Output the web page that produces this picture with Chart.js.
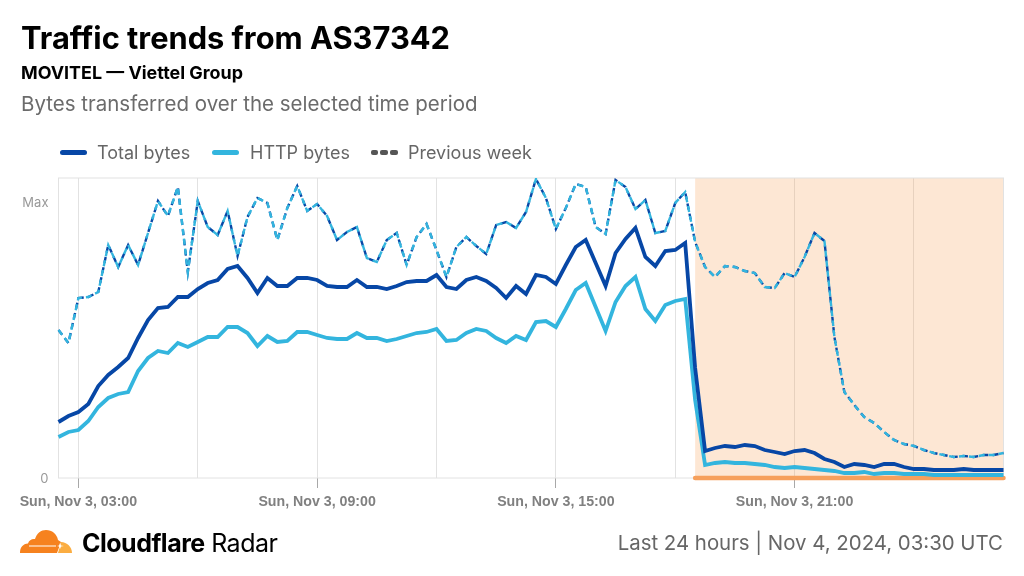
<!DOCTYPE html>
<html>
<head>
<meta charset="utf-8">
<script src="https://cdn.jsdelivr.net/npm/chart.js@4"></script>
<style>
  html, body { margin: 0; padding: 0; background: #fff; }
  body { width: 1024px; height: 576px; position: relative; overflow: hidden; font-family: Inter, sans-serif; }
  canvas { position: absolute; left: 0; top: 0; }
  .txt { position: absolute; white-space: nowrap; }
  #title { left: 21px; top: 19px; font-size: 30.8px; line-height: 38px; font-weight: 700; color: #000; }
  #sub { left: 21px; top: 62px; font-size: 17.9px; line-height: 22px; font-weight: 700; color: #000; }
  #desc { left: 21px; top: 91px; font-size: 20.5px; line-height: 26px; color: #6b6b6b; }
  .leg { top: 141px; font-size: 18px; line-height: 23px; color: #666; }
  .swatch { position: absolute; height: 5px; border-radius: 3px; top: 150px; }
  #brand { left: 82px; top: 526px; font-size: 25px; line-height: 34px; color: #000; letter-spacing: -0.5px; }
  #brand b { font-weight: 700; }
  #stamp { right: 21px; top: 529px; font-size: 20.4px; line-height: 28px; color: #666; }
  #logo { position: absolute; left: 20px; top: 530px; }
</style>
</head>
<body>
<canvas id="chart" width="1024" height="576"></canvas>

<div class="txt" id="title">Traffic trends from AS37342</div>
<div class="txt" id="sub">MOVITEL — Viettel Group</div>
<div class="txt" id="desc">Bytes transferred over the selected time period</div>

<div class="swatch" style="left:60px;width:27px;background:#0747a6"></div>
<div class="txt leg" style="left:97px">Total bytes</div>
<div class="swatch" style="left:212px;width:27px;background:#33b5de"></div>
<div class="txt leg" style="left:250px">HTTP bytes</div>
<div class="swatch" style="left:371px;width:7px;background:#555;border-radius:2px"></div>
<div class="swatch" style="left:380px;width:8px;background:#555;border-radius:2px"></div>
<div class="swatch" style="left:390px;width:8px;background:#555;border-radius:2px"></div>
<div class="txt leg" style="left:408px">Previous week</div>

<svg id="logo" width="52" height="23" viewBox="0 0 52 23">
  <path fill="#f6821f" d="M0 23C0 17 3 14 8 13.500 9 10 12 8.500 15 9 17 3 21 0 26 0 32 0 37 4 38 10L41 12 37 23z"/>
  <path fill="#fbad41" d="M38 23L41 12C47 12 52 17 52 23z"/>
  <path fill="#fff" d="M9 15.600H36V16.500H9zM40 13L41 15.500 44 16 41 16.500 40 19 39 16.500 37 16 39 15.500z"/>
</svg>
<div class="txt" id="brand"><b>Cloudflare</b> Radar</div>
<div class="txt" id="stamp">Last 24 hours | Nov 4, 2024, 03:30 UTC</div>

<script>
// valores, altura relativa (0 = base, 276 = "Max")
const totalBytes = [56,62,66,74,92,103,111,120,140,158,170,171,181,181,189,195,198,209,212,200,185,200,192,192,200,200,198,192,191,191,198,191,191,189,192,196,197,197,203,191,189,198,201,197,190,180,192,184,203,201,194,213,231,238,215,192,225,239,250,221,212,227,228,235,110,27,30,32,31,33,32,28,26,24,27,28,25,19,16,11,14,13,11,14,14,11,9,9,8,8,8,9,8,8,8,8];
const httpBytes = [41,46,48,57,71,80,84,86,107,120,127,125,135,131,136,141,141,151,151,145,132,142,136,137,146,146,143,140,139,139,145,140,140,137,139,142,145,146,149,137,138,145,149,147,140,135,142,138,156,157,151,169,188,195,171,147,176,192,201,169,157,173,177,179,78,13,15,16,15,15,14,13,11,10,11,10,9,8,7,5,5,6,4,5,5,4,4,4,3,3,3,3,3,3,3,3];
const previousWeek = [148,135,180,181,186,233,211,233,213,245,277,262,291,206,277,251,243,267,222,261,280,275,238,270,292,267,274,262,238,246,251,220,216,238,245,213,241,254,228,201,231,241,232,224,253,256,250,266,299,280,249,270,294,291,251,244,298,291,269,278,245,247,275,286,236,211,201,212,211,207,205,191,190,205,201,221,245,237,141,86,73,61,55,46,38,34,32,28,25,23,21,22,21,23,23,25];
// linha laranja: parte final do periodo, marcada como queda
const outageLine = previousWeek.map((v, i) => i >= 64 ? 0 : null);

const yTicks = [0, 276, 300];
const yTickLabels = { 0: '0', 276: 'Max' };
const firstHour = 2.5;
const stepHours = 0.25;
const dayNames = ['Sun, Nov 3', 'Mon, Nov 4'];

const categories = previousWeek.map((v, i) => {
    const h = firstHour + i * stepHours;
    const day = dayNames[Math.floor(h / 24)];
    const hh = Math.floor(h % 24);
    const mm = Math.round((h % 1) * 60);
    return `${day}, ${String(hh).padStart(2, '0')}:${String(mm).padStart(2, '0')}`;
});

const GRID = '#e2e2e2';

const bandPlugin = {
    id: 'band',
    beforeDatasetsDraw(chart) {
        const { ctx, chartArea, scales } = chart;
        const x0 = scales.x.getPixelForValue(64);
        ctx.save();
        ctx.fillStyle = 'rgba(249,158,84,0.25)';
        ctx.fillRect(x0, chartArea.top, chartArea.right - x0, chartArea.bottom - chartArea.top);
        ctx.strokeStyle = GRID;
        ctx.lineWidth = 1;
        ctx.strokeRect(chartArea.left, chartArea.top, chartArea.right - chartArea.left, chartArea.bottom - chartArea.top);
        ctx.restore();
    }
};

new Chart(document.getElementById('chart').getContext('2d'), {
    type: 'line',
    data: {
        labels: categories,
        datasets: [
            { label: 'Outage', data: outageLine, borderColor: '#f6a05c', borderWidth: 4.5, borderCapStyle: 'round', clip: false, order: 5 },
            { label: 'Total bytes', data: totalBytes, borderColor: '#0747a6', borderWidth: 3.8, order: 3 },
            { label: 'HTTP bytes', data: httpBytes, borderColor: '#33b5de', borderWidth: 3.8, order: 4 },
            { label: 'Previous week total', data: previousWeek, borderColor: '#0747a6', borderWidth: 2.4, borderDash: [6, 4.3], order: 2 },
            { label: 'Previous week', data: previousWeek, borderColor: '#33b5de', borderWidth: 2.4, borderDash: [6, 4], order: 1 }
        ]
    },
    options: {
        responsive: false,
        animation: false,
        devicePixelRatio: 1,
        layout: { padding: { left: 0, right: 20.5, top: 178, bottom: 48 } },
        elements: { point: { radius: 0 }, line: { tension: 0, borderJoinStyle: 'miter' } },
        plugins: { legend: { display: false }, tooltip: { enabled: false } },
        scales: {
            x: {
                type: 'category',
                offset: false,
                afterFit(scale) { scale.height = 50; },
                afterBuildTicks(scale) {
                    scale.ticks = scale.ticks.filter(t => t.value % 12 === 2);
                },
                grid: {
                    color: GRID,
                    lineWidth: 1,
                    drawTicks: true,
                    tickLength: 10,
                    tickColor: ctx => (ctx.tick.value % 24 === 2 ? '#a8a8a8' : 'rgba(0,0,0,0)')
                },
                border: { display: false },
                ticks: {
                    autoSkip: false,
                    maxRotation: 0,
                    padding: 6,
                    color: '#808080',
                    font: { family: '"Liberation Sans", Arial, sans-serif', size: 14.2, weight: 'bold' },
                    callback(value) {
                        return value % 24 === 2 ? categories[value] : '';
                    }
                }
            },
            y: {
                min: 0,
                max: 300,
                afterFit(scale) { scale.width = 58.5; },
                afterBuildTicks(scale) { scale.ticks = yTicks.map(v => ({ value: v })); },
                grid: { drawOnChartArea: false, drawTicks: false },
                border: { display: false },
                ticks: {
                    padding: 10,
                    labelOffset: 1,
                    color: '#999',
                    font: { family: 'Inter, sans-serif', size: 13 },
                    callback(value) { return yTickLabels[value] || ''; }
                }
            }
        }
    },
    plugins: [bandPlugin]
});
</script>
</body>
</html>
